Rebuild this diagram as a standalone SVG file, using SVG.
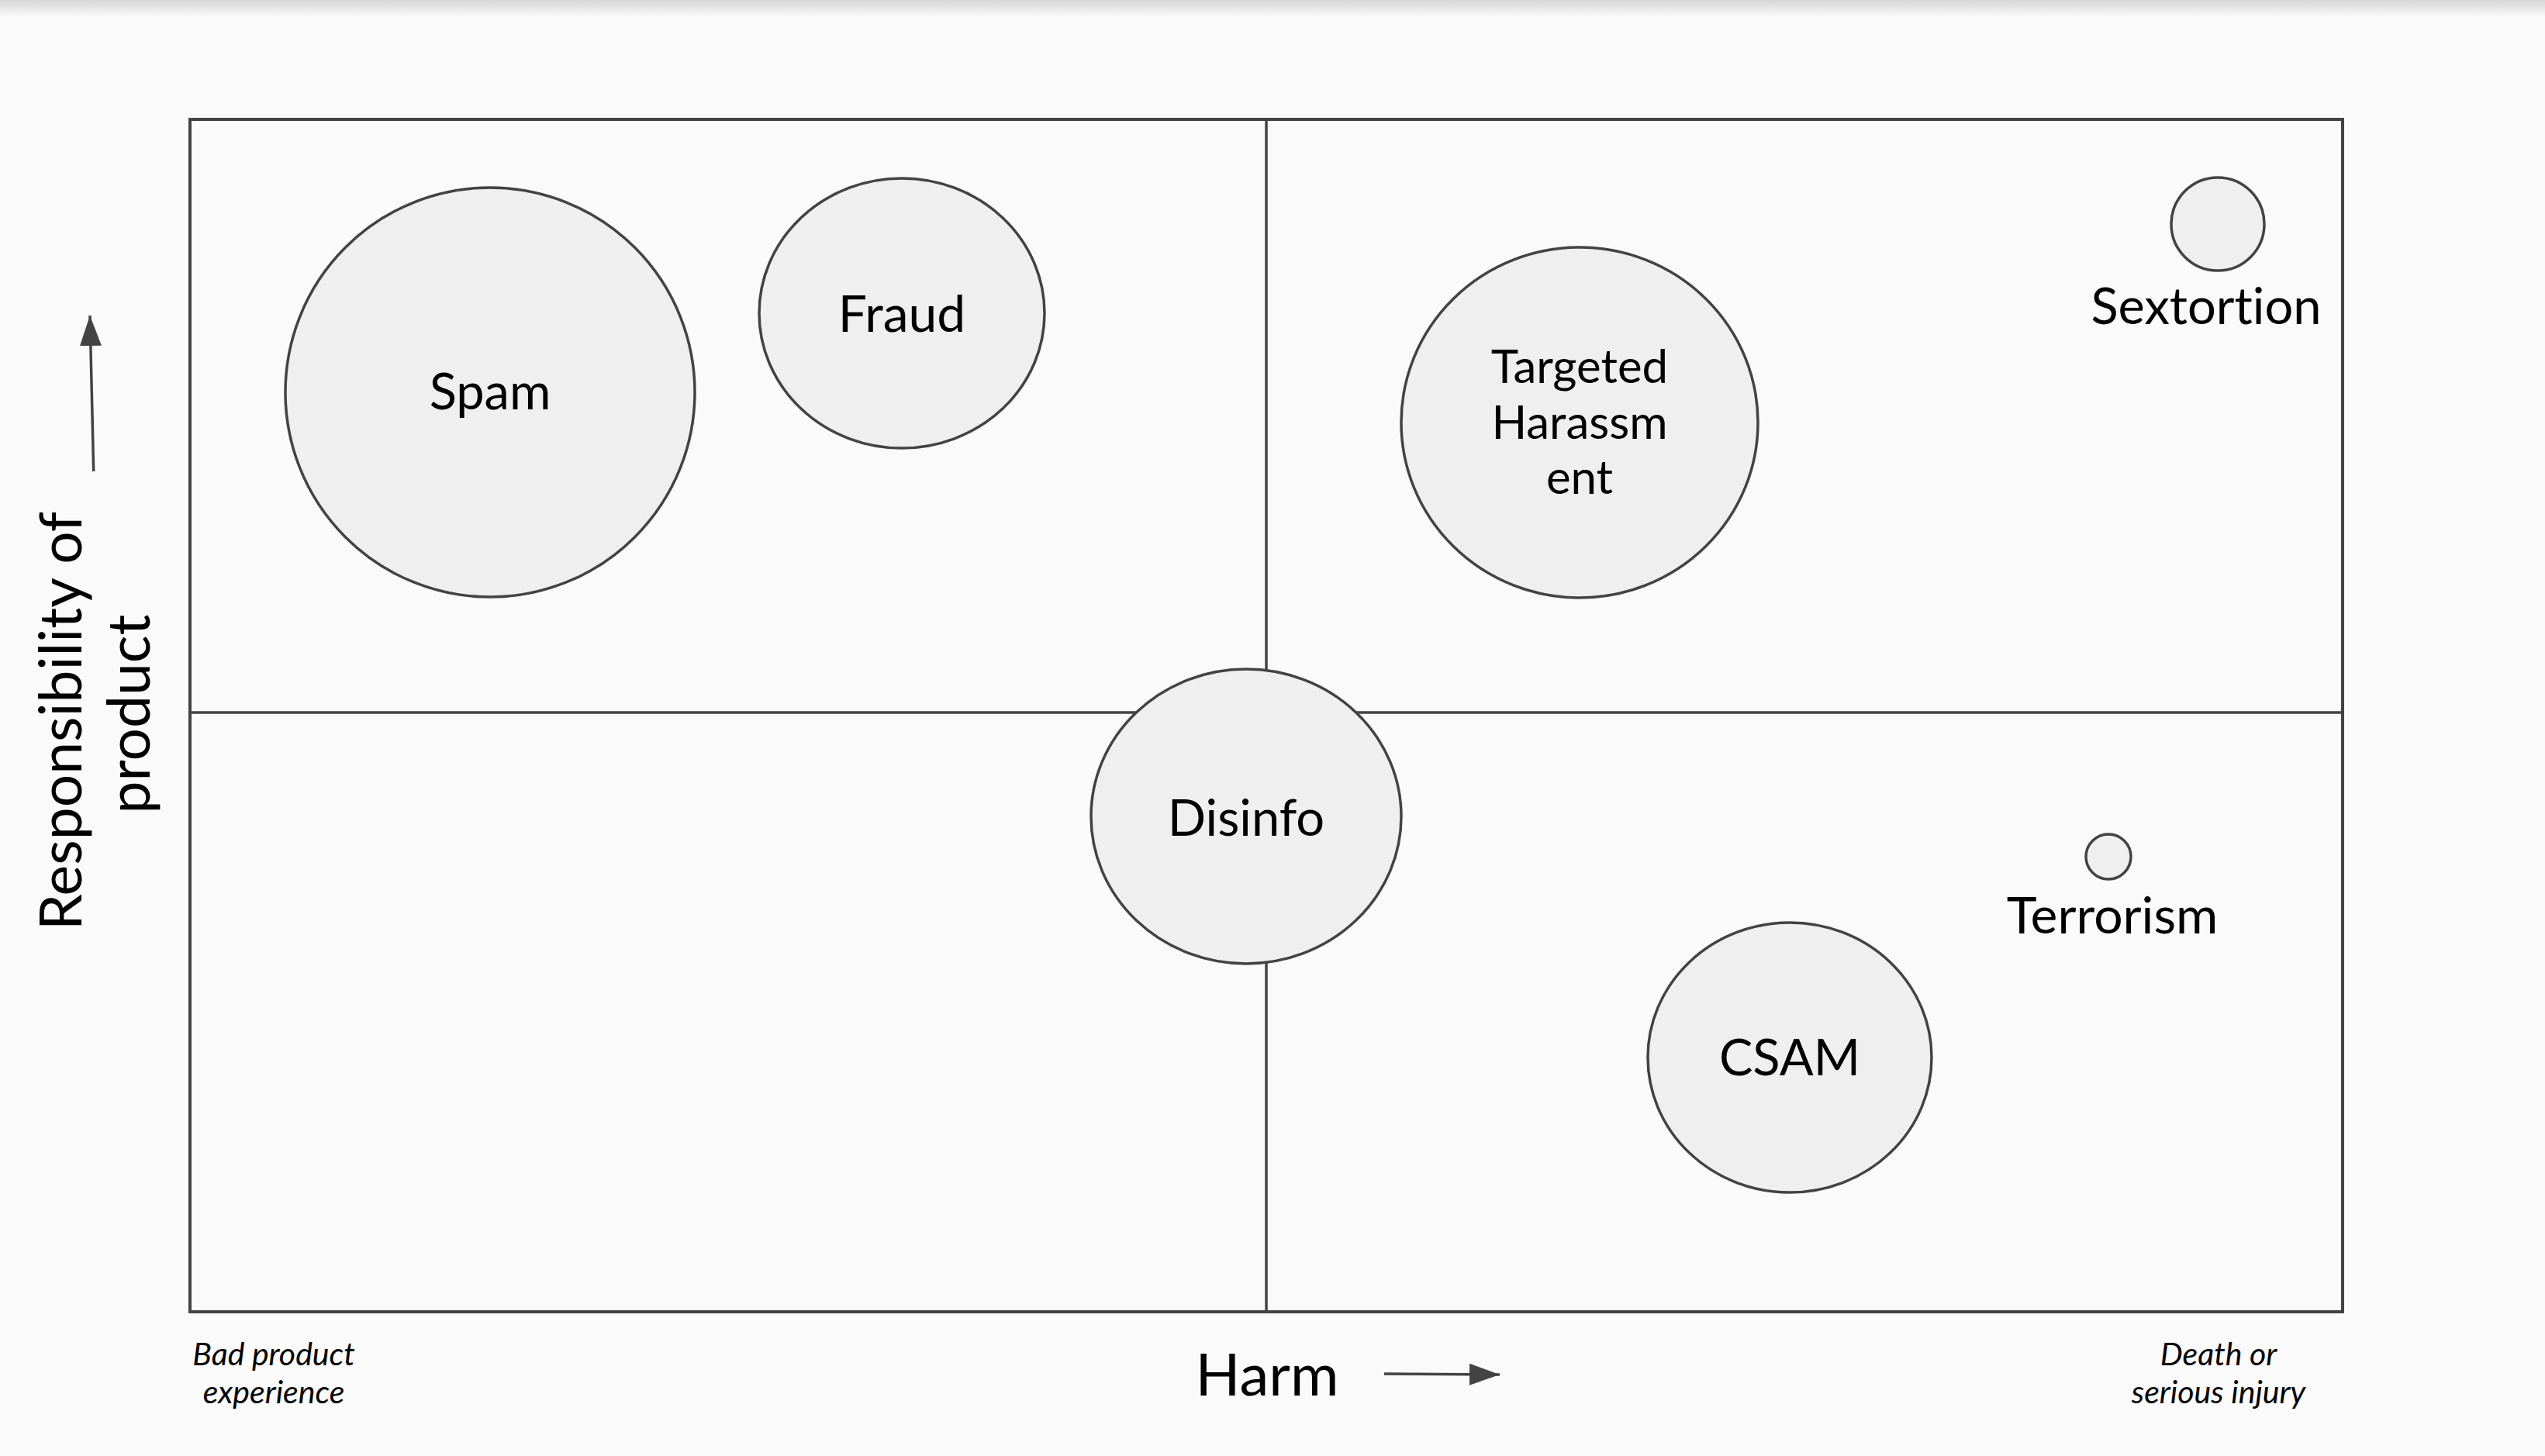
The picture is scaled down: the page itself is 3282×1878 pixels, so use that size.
<svg xmlns="http://www.w3.org/2000/svg" width="3282" height="1878" viewBox="0 0 3282 1878">
<defs>
<linearGradient id="topShadow" x1="0" y1="0" x2="0" y2="1">
<stop offset="0" stop-color="#d6d6d6"/>
<stop offset="1" stop-color="#fafafa"/>
</linearGradient>
<marker id="arrowHead" markerUnits="userSpaceOnUse" markerWidth="40" markerHeight="30" refX="39" refY="14" orient="auto">
<path d="M0,0 L39,14 L0,28 Z" fill="#434343"/>
</marker>
</defs>
<style>
.frame{fill:#fafafa;stroke:#434343;stroke-width:4}
.grid{stroke:#434343;stroke-width:3.5;fill:none}
.bubble{fill:#efefef;stroke:#434343;stroke-width:3.5}
.lbl{font-family:"Lato","Liberation Sans",sans-serif;fill:#000;text-anchor:middle;font-variant-ligatures:none}
.ital{font-family:"Lato","Liberation Sans",sans-serif;font-style:italic;fill:#000;text-anchor:middle;font-size:41px;font-variant-ligatures:none}
.axis{stroke:#434343;stroke-width:3.5;fill:none}
</style>
<rect x="0" y="0" width="3282" height="1878" fill="#fafafa"/>
<rect x="0" y="0" width="3282" height="22" fill="url(#topShadow)"/>

<g id="chart-frame">
<rect class="frame" x="245" y="154" width="2776" height="1538"/>
<line class="grid" x1="1633" y1="154" x2="1633" y2="1692"/>
<line class="grid" x1="245" y1="919" x2="3021" y2="919"/>
</g>

<g id="connectors">
<line class="axis" x1="120.7" y1="608" x2="116" y2="407" marker-end="url(#arrowHead)"/>
<line class="axis" x1="1785" y1="1772" x2="1934" y2="1773" marker-end="url(#arrowHead)"/>
</g>

<g id="node-spam">
<circle class="bubble" cx="632" cy="506" r="264"/>
<text class="lbl" x="632" y="528" font-size="65">Spam</text>
</g>

<g id="node-fraud">
<ellipse class="bubble" cx="1163" cy="404" rx="184" ry="174"/>
<text class="lbl" x="1163" y="428" font-size="66">Fraud</text>
</g>

<g id="node-targeted-harassment">
<ellipse class="bubble" cx="2037" cy="545" rx="230" ry="226"/>
<text class="lbl" x="2037" y="494" font-size="60">Targeted</text>
<text class="lbl" x="2037" y="566" font-size="60">Harassm</text>
<text class="lbl" x="2037" y="637" font-size="60">ent</text>
</g>

<g id="node-sextortion">
<circle class="bubble" cx="2860" cy="289" r="60"/>
<text class="lbl" x="2845" y="418" font-size="65">Sextortion</text>
</g>

<g id="node-disinfo">
<ellipse class="bubble" cx="1607" cy="1053" rx="200" ry="190"/>
<text class="lbl" x="1607" y="1078" font-size="65">Disinfo</text>
</g>

<g id="node-terrorism">
<circle class="bubble" cx="2719" cy="1105" r="29"/>
<text class="lbl" x="2724" y="1204" font-size="66">Terrorism</text>
</g>

<g id="node-csam">
<ellipse class="bubble" cx="2308" cy="1364" rx="183" ry="174"/>
<text class="lbl" x="2308" y="1387" font-size="65">CSAM</text>
</g>

<g id="axis-labels">
<text class="lbl" transform="translate(105,921) rotate(-90)" font-size="75">
<tspan x="0" y="0">Responsibility of</tspan>
<tspan x="0" y="88">product</tspan>
</text>
<text class="lbl" x="1634" y="1800" font-size="76">Harm</text>
<text class="ital" x="353" y="1761">Bad product</text>
<text class="ital" x="353" y="1810">experience</text>
<text class="ital" x="2861" y="1761">Death or</text>
<text class="ital" x="2861" y="1810">serious injury</text>
</g>
</svg>
